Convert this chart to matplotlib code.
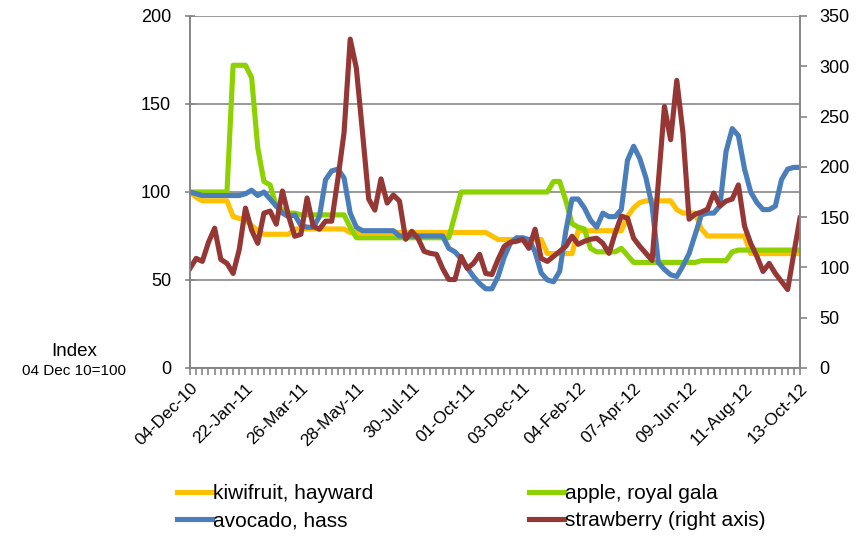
import matplotlib
matplotlib.use("Agg")
import matplotlib.pyplot as plt
import numpy as np

plt.rcParams['font.family'] = ['Liberation Sans', 'DejaVu Sans']

# weekly price index, 04 Dec 10 = 100
kiwifruit = [100, 97, 95, 95, 95, 95, 95, 86, 85, 84,
             81, 78, 76, 76, 76, 76, 76, 79, 79, 79,
             79, 79, 79, 79, 79, 79, 77, 77, 77, 77,
             77, 77, 77, 77, 77, 77, 77, 77, 77, 77,
             77, 77, 77, 77, 77, 77, 77, 77, 77, 75,
             73, 73, 73, 73, 73, 73, 73, 73, 65, 65,
             65, 65, 65, 78, 78, 78, 78, 78, 78, 78,
             78, 86, 91, 94, 95, 95, 95, 95, 95, 90,
             88, 88, 88, 79, 75, 75, 75, 75, 75, 75,
             75, 65, 65, 65, 65, 65, 65, 65, 65, 65]

apple = [100, 100, 100, 100, 100, 100, 100, 172, 172, 172,
         165, 125, 106, 104, 92, 90, 88, 88, 87, 87,
         87, 87, 87, 87, 87, 87, 80, 74, 74, 74,
         74, 74, 74, 74, 74, 74, 74, 74, 74, 74,
         74, 74, 74, 87, 100, 100, 100, 100, 100, 100,
         100, 100, 100, 100, 100, 100, 100, 100, 100, 106,
         106, 95, 82, 80, 79, 68, 66, 66, 66, 66,
         68, 64, 60, 60, 60, 60, 60, 60, 60, 60,
         60, 60, 60, 61, 61, 61, 61, 61, 66, 67,
         67, 67, 67, 67, 67, 67, 67, 67, 67, 67]

avocado = [100, 99, 98, 98, 98, 98, 98, 98, 98, 99,
           101, 98, 100, 96, 92, 88, 86, 87, 81, 80,
           80, 86, 107, 112, 113, 108, 88, 80, 78, 78,
           78, 78, 78, 78, 75, 75, 75, 75, 75, 75,
           75, 75, 68, 66, 62, 57, 52, 48, 45, 45,
           52, 63, 71, 74, 74, 73, 66, 54, 50, 49,
           55, 78, 96, 96, 91, 84, 80, 88, 86, 86,
           90, 118, 126, 119, 108, 92, 60, 56, 53, 52,
           58, 65, 76, 87, 88, 88, 92, 123, 136, 132,
           113, 100, 94, 90, 90, 92, 107, 113, 114, 114]

strawberry = [99, 109, 106, 125, 139, 108, 104, 94, 118, 159,
              137, 124, 154, 156, 143, 176, 151, 131, 133, 169,
              141, 138, 146, 146, 188, 234, 327, 298, 234, 168,
              157, 188, 164, 172, 166, 128, 136, 129, 116, 114,
              113, 99, 88, 88, 111, 99, 104, 113, 94, 93,
              108, 121, 125, 126, 128, 119, 138, 109, 106, 111,
              116, 121, 131, 123, 126, 128, 129, 124, 114, 134,
              151, 149, 129, 121, 114, 107, 184, 260, 227, 286,
              234, 148, 153, 155, 158, 174, 161, 166, 168, 182,
              141, 124, 111, 96, 104, 94, 86, 78, 114, 149]

date_labels = ["04-Dec-10", "22-Jan-11", "26-Mar-11", "28-May-11",
               "30-Jul-11", "01-Oct-11", "03-Dec-11", "04-Feb-12",
               "07-Apr-12", "09-Jun-12", "11-Aug-12", "13-Oct-12"]
label_step = 9

grey = '#868686'
x = np.arange(len(kiwifruit))

fig = plt.figure(figsize=(8.58, 5.36), dpi=100)
ax = fig.add_axes([190 / 858, 168 / 536, 610 / 858, 352 / 536])
ax2 = ax.twinx()

l1, = ax.plot(x, kiwifruit, color='#FFC000', lw=3.7, label='kiwifruit, hayward')
l2, = ax.plot(x, apple, color='#8DD100', lw=3.7, label='apple, royal gala')
l3, = ax.plot(x, avocado, color='#4A7EBB', lw=3.7, label='avocado, hass')
l4, = ax2.plot(x, strawberry, color='#953735', lw=3.7, label='strawberry (right axis)')

ax.set_xlim(0, len(x) - 1)
ax.set_ylim(0, 200)
ax2.set_ylim(0, 350)

ax.set_yticks([0, 50, 100, 150, 200])
ax2.set_yticks(np.arange(0, 351, 50))
ax.set_xticks(x[::label_step])
ax.set_xticklabels(date_labels, rotation=45, ha='right', rotation_mode='anchor',
                   fontsize=12.5)
ax.set_xticks(x, minor=True)

for a in (ax, ax2):
    for s in a.spines.values():
        s.set_color(grey)
        s.set_linewidth(1.2)
    a.spines['top'].set_visible(False)

ax.grid(axis='y', color=grey, lw=1.2)
ax.set_axisbelow(True)

ax.tick_params(axis='y', direction='inout', length=7, width=1.2, color=grey,
               labelsize=13, pad=10)
ax2.tick_params(axis='y', direction='out', length=5, width=1.2, color=grey,
                labelsize=13, pad=9)
ax.tick_params(axis='x', which='both', direction='out', length=5, width=1.2,
               color=grey, pad=4)

fig.text(74 / 858, 1 - 352 / 536, 'Index', ha='center', va='center', fontsize=13.5)
fig.text(74 / 858, 1 - 371 / 536, '04 Dec 10=100', ha='center', va='center', fontsize=11)

fig.legend([l1, l3, l2, l4],
           [l1.get_label(), l3.get_label(), l2.get_label(), l4.get_label()],
           ncol=2, loc='upper left', bbox_to_anchor=(177 / 858, 1 - 484 / 536),
           frameon=False, fontsize=15, handlelength=1.7, handletextpad=0.05,
           columnspacing=7.45, labelspacing=0.4, borderpad=0, borderaxespad=0)

fig.savefig('out.png', dpi=100)
